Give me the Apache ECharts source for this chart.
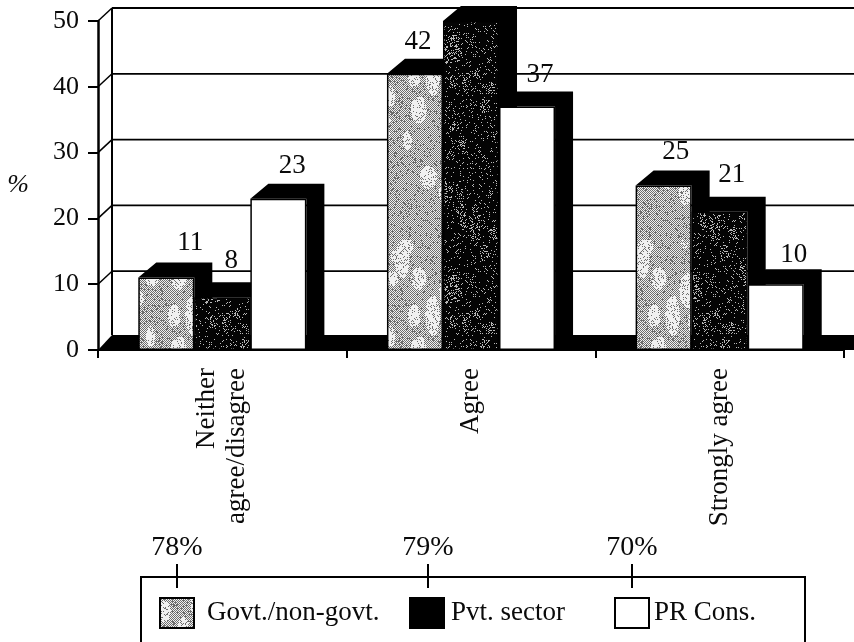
<!DOCTYPE html>
<html>
<head>
<meta charset="utf-8">
<style>html,body{margin:0;padding:0;background:#fff;overflow:hidden}#c{width:854px;height:642px}</style>
<script src="https://cdn.jsdelivr.net/npm/echarts@6/dist/echarts.min.js"></script>
</head>
<body>
<div id="c"></div>
<script>
const categories = ['Neither\nagree/disagree', 'Agree', 'Strongly agree'];
const govt = [11, 42, 25];
const pvt = [8, 50, 21];
const prCons = [23, 37, 10];
const seriesNames = ['Govt./non-govt.', 'Pvt. sector', 'PR Cons.'];
const agreeTotals = ['78%', '79%', '70%'];
const yTicks = [10, 20, 30, 40, 50];

// Label styling only (nudges from the library's own label position); null hides a label.
const govtLabelNudge = [[24, -16], [3, -13], [12, -15]];
const pvtLabelNudge = [[9, -18], null, [12, -18]];
const prLabelNudge = [[14, -14], [13, -13], [18, -11]];

const FONT = '"Liberation Serif","Times New Roman",serif';
const INK = '#0a0a0a';
const GAP = 0.324;

function texture(dark, light, lightBlotch, density, blotches, rMin, rVar) {
  const size = 240, cv = document.createElement('canvas');
  cv.width = cv.height = size;
  const g = cv.getContext('2d');
  g.fillStyle = light; g.fillRect(0, 0, size, size);
  let s = 12345;
  const next = () => { s = (s * 16807) % 2147483647; return s / 2147483647; };
  const blotch = [];
  for (let i = 0; i < blotches; i++) blotch.push([next() * size, next() * size, rMin + next() * rVar, 0.35 + next() * 0.6]);
  for (let y = 0; y < size; y++) for (let x = 0; x < size; x++) {
    const inB = blotch.some(b => Math.hypot(x - b[0], (y - b[1]) * b[3]) < b[2]);
    let on = ((x + y) % 2 === 0) || next() < density;
    if (inB && next() < lightBlotch) on = false;
    if (on) { g.fillStyle = dark; g.fillRect(x, y, 1, 1); }
  }
  return { image: cv, repeat: 'repeat' };
}
const greyTex = texture('#6e6e6e', '#f0f0f0', 0.7, 0.1, 70, 3, 6);
const darkTex = texture('#040404', '#b8b8b8', 0.22, 0.86, 60, 2, 5);

function frontBar(name, data, color, z, nudges) {
  return {
    type: 'bar', name, data: data.map((v, i) => ({
      value: v,
      label: nudges[i] ? { show: true, offset: nudges[i] } : { show: false }
    })),
    barGap: 0, barCategoryGap: (GAP * 100) + '%', z,
    itemStyle: { color, borderColor: '#000', borderWidth: 1.5 },
    label: { show: true, position: 'top', color: INK, fontFamily: FONT, fontSize: 27 }
  };
}

function shade(index, data, z) {
  return {
    type: 'custom', data: data.map((v, i) => [i, v]), z, silent: true, clip: false,
    renderItem(params, api) {
      const band = api.size([1, 0])[0], w = band * (1 - GAP) / 3;
      const base = api.coord([api.value(0), 0]), top = api.coord([api.value(0), api.value(1)]);
      const x0 = base[0] - w * 1.5 + index * w, x1 = x0 + w, dx = 18, dy = 15;
      return {
        type: 'polygon',
        shape: { points: [[x0, top[1]], [x0 + dx, top[1] - dy], [x1 + dx, top[1] - dy], [x1 + dx, base[1] - dy], [x1, base[1]], [x1, top[1]]] },
        style: { fill: '#000' }
      };
    }
  };
}

const wall = {
  type: 'custom', data: [[0, 0]], z: 1, silent: true, clip: false,
  renderItem(params, api) {
    const band = api.size([1, 0])[0], dx = 14, dy = 13;
    const o = api.coord([0, 0]), x0 = o[0] - band / 2, xEnd = x0 + band * 3 + dx;
    const line = (a, b, c, d, w) => ({ type: 'line', shape: { x1: a, y1: b, x2: c, y2: d }, style: { stroke: '#000', lineWidth: w } });
    const kids = [{
      type: 'polygon',
      shape: { points: [[x0, o[1]], [x0 + dx, o[1] - 15], [xEnd, o[1] - 15], [xEnd, o[1]]] },
      style: { fill: '#000' }
    }];
    const top = api.coord([0, 50])[1];
    kids.push(line(x0 + dx, top - dy, x0 + dx, o[1] - 15, 2));
    yTicks.forEach(t => {
      const y = api.coord([0, t])[1];
      kids.push(line(x0, y, x0 + dx, y - dy, 1.5));
      kids.push(line(x0 + dx, y - dy, xEnd, y - dy, 1.8));
    });
    return { type: 'group', children: kids };
  }
};

function legendAt(i, left, pad, fill) {
  return {
    left, top: 597, padding: 0, itemWidth: 34, itemHeight: 30, itemGap: 0, selectedMode: false, icon: 'rect',
    data: [{ name: seriesNames[i], itemStyle: Object.assign({ borderColor: '#000', borderWidth: 2 }, fill || {}) }],
    textStyle: { fontFamily: FONT, fontSize: 27, color: INK, padding: [0, 0, 0, pad] }
  };
}

const boxTicks = [177, 428, 632];
const graphic = [{
  type: 'rect', shape: { x: 141, y: 577, width: 664, height: 80 },
  style: { fill: 'none', stroke: '#000', lineWidth: 2 }, z: 1
}];
agreeTotals.forEach((t, i) => {
  graphic.push({ type: 'line', shape: { x1: boxTicks[i], y1: 564, x2: boxTicks[i], y2: 588 }, style: { stroke: '#000', lineWidth: 2 } });
  graphic.push({ type: 'text', x: boxTicks[i], y: 548, style: { text: t, font: '28px ' + FONT, fill: INK, textAlign: 'center', textVerticalAlign: 'middle' } });
});

const chart = echarts.init(document.getElementById('c'), null, { renderer: 'canvas' });
chart.setOption({
  animation: false, backgroundColor: '#fff',
  grid: { left: 98, right: 10, top: 21, bottom: 292, containLabel: false, outerBoundsMode: 'none' },
  xAxis: {
    type: 'category', data: categories,
    axisLine: { lineStyle: { color: '#000', width: 2 } },
    axisTick: { show: true, length: 8, lineStyle: { color: '#000', width: 2 } },
    axisLabel: { rotate: 90, interval: 0, color: INK, fontFamily: FONT, fontSize: 27, lineHeight: 30, margin: 18 }
  },
  yAxis: {
    type: 'value', min: 0, max: 50, interval: 10, name: '%', nameLocation: 'middle', nameGap: 69, nameRotate: 0,
    nameTextStyle: { fontFamily: FONT, fontStyle: 'italic', fontSize: 26, color: INK, padding: [0, 0, 10, 0] },
    splitLine: { show: false },
    axisLine: { show: true, lineStyle: { color: '#000', width: 2.5 } },
    axisTick: { show: true, length: 10, lineStyle: { color: '#000', width: 2 } },
    axisLabel: { color: INK, fontFamily: FONT, fontSize: 26, margin: 19 }
  },
  legend: [
    legendAt(0, 159, 8),
    legendAt(1, 409, 2, { color: '#000' }),
    legendAt(2, 614, 0)
  ],
  graphic,
  series: [
    wall,
    shade(0, govt, 2), frontBar(seriesNames[0], govt, greyTex, 3, govtLabelNudge),
    shade(1, pvt, 4), frontBar(seriesNames[1], pvt, darkTex, 5, pvtLabelNudge),
    shade(2, prCons, 6), frontBar(seriesNames[2], prCons, '#fff', 7, prLabelNudge)
  ]
});
</script>
</body>
</html>
